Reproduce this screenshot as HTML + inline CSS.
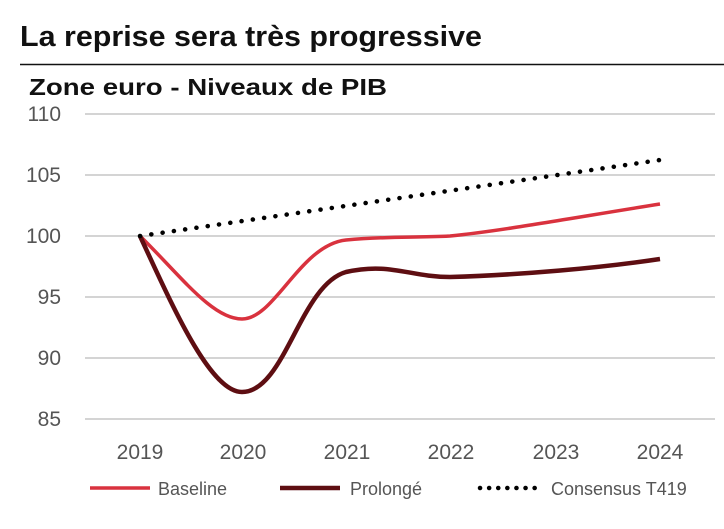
<!DOCTYPE html>
<html><head><meta charset="utf-8"><style>
body{margin:0;background:#fff;width:724px;height:524px;overflow:hidden;font-family:"Liberation Sans",sans-serif}
</style></head><body>
<svg width="724" height="524" xmlns="http://www.w3.org/2000/svg" font-family="Liberation Sans, sans-serif">
<text x="20" y="46" font-size="29" font-weight="bold" fill="#111" textLength="462" lengthAdjust="spacingAndGlyphs">La reprise sera très progressive</text>
<line x1="20" y1="64.5" x2="724" y2="64.5" stroke="#111" stroke-width="1.5"/>
<text x="29" y="95" font-size="23" font-weight="bold" fill="#111" textLength="358" lengthAdjust="spacingAndGlyphs">Zone euro - Niveaux de PIB</text>
<g stroke="#d4d4d4" stroke-width="2">
<line x1="85" y1="114" x2="715" y2="114"/><line x1="85" y1="175" x2="715" y2="175"/>
<line x1="85" y1="236" x2="715" y2="236"/><line x1="85" y1="297" x2="715" y2="297"/>
<line x1="85" y1="358" x2="715" y2="358"/><line x1="85" y1="419" x2="715" y2="419"/>
</g>
<g font-size="21" fill="#555" text-anchor="end">
<text x="61" y="121">110</text><text x="61" y="182">105</text><text x="61" y="243">100</text>
<text x="61" y="304">95</text><text x="61" y="365">90</text><text x="61" y="426">85</text>
</g>
<g font-size="21" fill="#555" text-anchor="middle">
<text x="140" y="459">2019</text><text x="243" y="459">2020</text><text x="347" y="459">2021</text>
<text x="451" y="459">2022</text><text x="556" y="459">2023</text><text x="660" y="459">2024</text>
</g>
<path d="M140,236 C180,275 212,319 242,319 C275,319 300,245 346,240 C390,236 410,238 450,236 C500,231 560,220 660,204" fill="none" stroke="#d9323e" stroke-width="3.5"/>
<path d="M140,236 C172,305 210,392 242,392 C285,392 300,285 346,272 C390,262 410,277 450,277 C520,275 600,268 660,259" fill="none" stroke="#5e0e12" stroke-width="4.5"/>
<line x1="140" y1="236" x2="660" y2="160" stroke="#000" stroke-width="4.5" stroke-linecap="round" stroke-dasharray="0.1 11.3"/>
<line x1="90" y1="488" x2="150" y2="488" stroke="#d9323e" stroke-width="3.5"/>
<text x="158" y="495" font-size="18" fill="#555">Baseline</text>
<line x1="280" y1="488" x2="340" y2="488" stroke="#5e0e12" stroke-width="4.5"/>
<text x="350" y="495" font-size="18" fill="#555">Prolongé</text>
<line x1="480" y1="488" x2="540" y2="488" stroke="#000" stroke-width="4.5" stroke-linecap="round" stroke-dasharray="0.1 9"/>
<text x="551" y="495" font-size="18" fill="#555">Consensus T419</text>
</svg>
</body></html>
